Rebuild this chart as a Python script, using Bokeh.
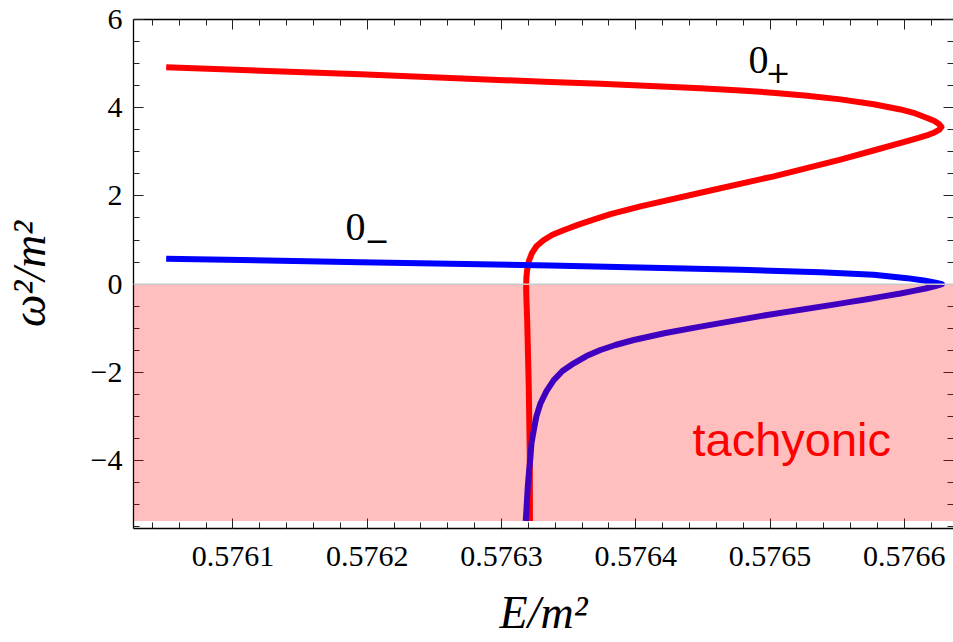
from bokeh.plotting import figure
from bokeh.models import Range1d, LinearAxis, FixedTicker, BoxAnnotation, Span, Label, CustomJSTickFormatter
from bokeh.embed import file_html
from bokeh.resources import INLINE

# ---- data ----
# branch 0+ (red)
red_E = [0.57605034, 0.57619501, 0.57633649, 0.57637372, 0.57641095, 0.57644818,
         0.57647796, 0.57650402, 0.57652762, 0.57655242, 0.57657721, 0.57659710,
         0.57660826, 0.57661794, 0.57662241, 0.57662576, 0.57662762, 0.57662576,
         0.57662241, 0.57661794, 0.57661050, 0.57660208, 0.57657699, 0.57655242,
         0.57650275, 0.57645316, 0.57640350, 0.57638116, 0.57636850, 0.57635733,
         0.57634617, 0.57633797, 0.57633127, 0.57632606, 0.57632271, 0.57632048,
         0.57631914, 0.57631854, 0.57631839, 0.57631862, 0.57631914, 0.57632033,
         0.57632107, 0.57632122]
red_w2 = [4.916, 4.757, 4.582, 4.541, 4.493, 4.443,
          4.393, 4.336, 4.273, 4.189, 4.080, 3.961,
          3.870, 3.757, 3.700, 3.632, 3.564, 3.495,
          3.439, 3.386, 3.314, 3.241, 3.030, 2.825,
          2.445, 2.105, 1.764, 1.586, 1.461, 1.348,
          1.223, 1.120, 0.995, 0.859, 0.705, 0.530,
          0.325, 0.143, -0.084, -0.357, -0.811, -2.327,
          -3.834, -5.37]
# branch 0- (blue)
blue_E = [0.57605034, 0.57619501, 0.57633649, 0.57647796, 0.57653753, 0.57657721,
          0.57660208, 0.57661444, 0.57662241, 0.57662800, 0.57662316, 0.57661571,
          0.57660603, 0.57659710, 0.57658220, 0.57657230, 0.57655987, 0.57654743,
          0.57649784, 0.57644818, 0.57642211, 0.57639851, 0.57638488, 0.57637372,
          0.57636329, 0.57635383, 0.57634542, 0.57633894, 0.57633351, 0.57632904,
          0.57632606, 0.57632405, 0.57632234, 0.57632159, 0.57632048, 0.57631958,
          0.57631809]
blue_w2 = [0.575, 0.498, 0.423, 0.325, 0.268, 0.211,
           0.136, 0.082, 0.039, 0.0, -0.045, -0.098,
           -0.157, -0.211, -0.289, -0.341, -0.402, -0.464,
           -0.698, -0.964, -1.107, -1.266, -1.380, -1.493,
           -1.630, -1.795, -1.970, -2.175, -2.425, -2.705,
           -2.993, -3.311, -3.607, -3.918, -4.266, -4.600,
           -5.37]

x_major = [0.5761, 0.5762, 0.5763, 0.5764, 0.5765, 0.5766]
y_major = [-4, -2, 0, 2, 4, 6]
x_minor = [round(0.57602 + 0.00002 * k, 5) for k in range(33)]
y_minor = [-5.5 + 0.5 * k for k in range(24)]

x_lo, x_hi = 0.576026, 0.5766366
y_lo, y_hi = -5.54, 6.0
tachyonic_bottom = -5.37

serif = "Liberation Serif"

p = figure(width=953, height=642, x_range=Range1d(x_lo, x_hi), y_range=Range1d(y_lo, y_hi),
           output_backend="svg", toolbar_location=None,
           min_border_left=133, min_border_right=0, min_border_top=19, min_border_bottom=114,
           x_axis_label="E/m²", y_axis_label="ω²/m²")
p.grid.visible = False
p.outline_line_color = None
p.background_fill_color = "white"
p.border_fill_color = "white"

xt = FixedTicker(ticks=x_major, minor_ticks=x_minor)
yt = FixedTicker(ticks=y_major, minor_ticks=y_minor)
xfmt = CustomJSTickFormatter(code="return tick.toFixed(4);")
yfmt = CustomJSTickFormatter(code="return tick < 0 ? '\u2212' + Math.abs(tick).toString() : tick.toString();")
blank = CustomJSTickFormatter(code="return '';")

def style(ax, ticker):
    ax.ticker = ticker
    ax.major_tick_in = 10
    ax.major_tick_out = 0
    ax.minor_tick_in = 6
    ax.minor_tick_out = 0
    ax.major_tick_line_color = "#222222"
    ax.minor_tick_line_color = "#222222"
    ax.axis_line_color = "black"
    ax.axis_line_width = 1.3

xa = p.xaxis[0]
style(xa, xt)
xa.formatter = xfmt
xa.major_label_text_font = serif
xa.major_label_text_font_size = "30px"
xa.major_label_text_color = "black"
xa.major_label_standoff = 18
xa.axis_label_text_font = serif
xa.axis_label_text_font_style = "italic"
xa.axis_label_text_font_size = "46px"
xa.axis_label_text_color = "black"
xa.axis_label_standoff = 18

ya = p.yaxis[0]
style(ya, yt)
ya.formatter = yfmt
ya.major_label_text_font = serif
ya.major_label_text_font_size = "30px"
ya.major_label_text_color = "black"
ya.major_label_standoff = 11
ya.axis_label_text_font = serif
ya.axis_label_text_font_style = "italic"
ya.axis_label_text_font_size = "46px"
ya.axis_label_text_color = "black"
ya.axis_label_standoff = 33

top = LinearAxis(formatter=blank)
style(top, xt)
top.major_label_standoff = 0
p.add_layout(top, "above")

right = LinearAxis(formatter=blank)
style(right, yt)
right.axis_line_color = None
right.major_label_standoff = 0
p.add_layout(right, "right")

p.line(red_E, red_w2, line_color="#ff0000", line_width=6, line_join="round")
p.line(blue_E, blue_w2, line_color="#0000ff", line_width=6, line_join="round")

p.add_layout(BoxAnnotation(top=0, bottom=tachyonic_bottom, fill_color="#ff0000", fill_alpha=0.25,
                           line_color=None))
p.add_layout(Span(location=0, dimension="width", line_color="#c8c8c8", line_width=1.5))

# labels
p.add_layout(Label(x=0.57648391, y=5.086, text="0", text_font=serif, text_font_size="40px",
                   text_baseline="middle", text_align="left", text_color="black"))
p.add_layout(Label(x=0.57649657, y=4.814, text="+", text_font="DejaVu Serif",
                   text_font_size="30px", text_baseline="middle", text_align="left", text_color="black"))
p.add_layout(Label(x=0.57618384, y=1.286, text="0", text_font=serif, text_font_size="40px",
                   text_baseline="middle", text_align="left", text_color="black"))
p.add_layout(Label(x=0.57619799, y=1.007, text="\u2212", text_font="DejaVu Serif",
                   text_font_size="30px", text_baseline="middle", text_align="left", text_color="black"))
p.add_layout(Label(x=0.57644222, y=-3.516, text="tachyonic", text_font="Liberation Sans",
                   text_font_size="47px", text_baseline="middle", text_align="left", text_color="#ff0000"))

open("out.html", "w").write(file_html(p, INLINE))
